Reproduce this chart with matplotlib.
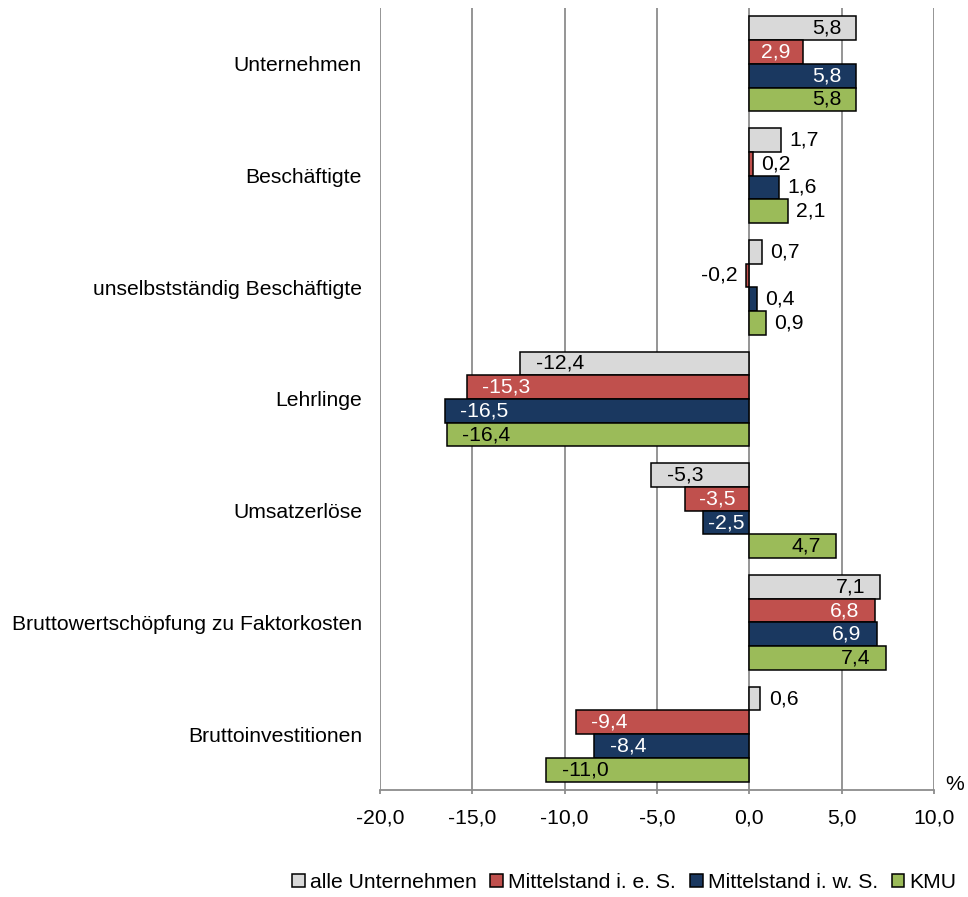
import numpy as np
import matplotlib
matplotlib.use("Agg")
import matplotlib.pyplot as plt

plt.rcParams["font.family"] = ["Liberation Sans", "DejaVu Sans"]

categories = [
    "Unternehmen",
    "Beschäftigte",
    "unselbstständig Beschäftigte",
    "Lehrlinge",
    "Umsatzerlöse",
    "Bruttowertschöpfung zu Faktorkosten",
    "Bruttoinvestitionen",
]
series_names = ["alle Unternehmen", "Mittelstand i. e. S.", "Mittelstand i. w. S.", "KMU"]
alle = [5.8, 1.7, 0.7, -12.4, -5.3, 7.1, 0.6]
mittel_ies = [2.9, 0.2, -0.2, -15.3, -3.5, 6.8, -9.4]
mittel_iws = [5.8, 1.6, 0.4, -16.5, -2.5, 6.9, -8.4]
kmu = [5.8, 2.1, 0.9, -16.4, 4.7, 7.4, -11.0]
x_ticks = [-20, -15, -10, -5, 0, 5, 10]

colors = ["#d9d9d9", "#c0504d", "#1a3860", "#9bbb59"]
label_colors = ["black", "white", "white", "black"]
FS = 15.2


def fmt(v):
    return f"{v:.1f}".replace(".", ",")


fig = plt.figure(figsize=(9.68, 8.97), dpi=100)
ax = fig.add_axes([0.3926, 0.1193, 0.5723, 0.8718])

n = len(categories)
y = np.arange(n)
h = 0.2125
offsets = (np.arange(4) - 1.5) * h

for k, vals in enumerate([alle, mittel_ies, mittel_iws, kmu]):
    ypos = y + offsets[k]
    ax.barh(ypos, vals, height=h, color=colors[k], edgecolor="black",
            linewidth=1.1, label=series_names[k], zorder=3)
    for yy, v in zip(ypos, vals):
        a = abs(v)
        s = 1 if v >= 0 else -1
        if a >= 4:
            # inside, near the bar end
            ax.annotate(fmt(v), (v, yy), xytext=(-11 * s, 0), textcoords="offset points",
                        ha="right" if s > 0 else "left", va="center", fontsize=FS,
                        color=label_colors[k], zorder=4)
        elif a >= 2.2:
            # short bar: centred in the bar
            ax.text(v / 2, yy, fmt(v), ha="center", va="center", fontsize=FS,
                    color=label_colors[k], zorder=4)
        else:
            ax.annotate(fmt(v), (v, yy), xytext=(6 * s, 0), textcoords="offset points",
                        ha="left" if s > 0 else "right", va="center", fontsize=FS,
                        color="black", zorder=4)

ax.set_xlim(-20, 10)
ax.set_ylim(n - 0.5, -0.5)
ax.set_xticks(x_ticks)
ax.set_xticklabels([fmt(t) for t in x_ticks], fontsize=FS)
ax.set_yticks(y)
ax.set_yticklabels(categories, fontsize=FS)
ax.tick_params(axis="y", length=0, pad=13)
ax.tick_params(axis="x", length=3, color="#8c8c8c", width=1.3, pad=10)
ax.grid(True, axis="x", color="#8c8c8c", linewidth=1.3, zorder=0)
for side in ["top", "right", "left"]:
    ax.spines[side].set_visible(False)
ax.spines["bottom"].set_color("#8c8c8c")
ax.spines["bottom"].set_linewidth(1.3)

fig.text(0.996, 0.125, "%", ha="right", va="center", fontsize=FS)

fig.legend(loc="center right", bbox_to_anchor=(0.997, 0.016), ncol=4, frameon=False,
           fontsize=FS, handlelength=0.6, handleheight=0.6, handletextpad=0.25,
           columnspacing=0.65, borderaxespad=0)

fig.savefig("out.png", dpi=100)
